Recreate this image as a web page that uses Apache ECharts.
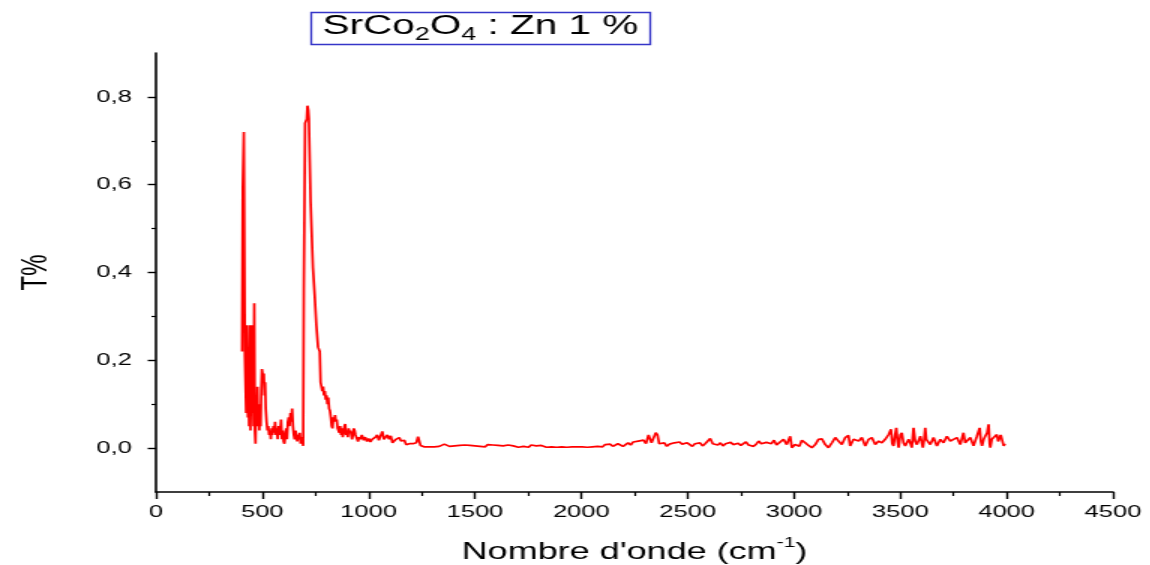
<!DOCTYPE html>
<html>
<head>
<meta charset="utf-8">
<script src="https://cdn.jsdelivr.net/npm/echarts@6/dist/echarts.min.js"></script>
<style>
  html, body { margin: 0; padding: 0; background: #fff; overflow: hidden; }
  /* the plot is laid out narrow and widened horizontally, like the original export */
  #chart { width: 767px; height: 565px; transform: scaleX(1.5); transform-origin: 0 0; }
</style>
</head>
<body>
<div id="chart"></div>
<script>
// IR transmission spectrum of SrCo2O4 doped with 1 % Zn
const wavenumbers = [
  405, 408, 411, 413, 416, 418, 421, 424, 427, 430, 432, 435, 438, 441, 444, 447, 450, 453, 456, 459,
  462, 465, 468, 471, 474, 477, 480, 483, 486, 489, 492, 495, 498, 501, 504, 507, 510, 513, 516, 520,
  524, 528, 532, 536, 540, 544, 548, 552, 556, 560, 564, 568, 572, 576, 580, 584, 588, 592, 596, 600,
  604, 608, 612, 616, 620, 624, 628, 632, 636, 640, 644, 648, 652, 656, 660, 664, 668, 672, 676, 680,
  684, 688, 692,
  695, 698, 701, 705, 709, 712, 716, 719, 723, 727, 731, 735, 738, 742, 746, 750, 754, 758, 762, 766,
  770, 774, 778, 782, 786, 790, 794, 798, 802, 806, 810, 814, 818, 822, 826, 830, 834, 838, 842, 846,
  850, 854, 858, 862, 866, 870, 874, 878, 882, 886, 890, 894, 898, 902, 906, 910, 914, 918, 922, 926,
  930, 934, 938, 942, 946, 950, 955,
  960, 968, 976, 984, 992, 1000, 1008, 1016, 1024, 1032, 1040, 1048, 1056, 1064, 1072, 1080, 1088, 1096,
  1104, 1112, 1120, 1128, 1136, 1144, 1152, 1160, 1168, 1176, 1184, 1192, 1200, 1208, 1216, 1224, 1232,
  1238, 1244, 1252,
  1260, 1272, 1284, 1296, 1308, 1320, 1332, 1344, 1356, 1368, 1380, 1392, 1404, 1416, 1428, 1440, 1452,
  1464, 1476, 1488, 1500, 1512, 1524, 1536, 1548, 1560, 1572, 1584, 1596, 1608, 1620, 1632, 1644, 1656,
  1668, 1680, 1692, 1704, 1716, 1728, 1740, 1752, 1764, 1776, 1788, 1800, 1812, 1824, 1836, 1848, 1860,
  1872, 1884, 1896, 1908, 1920, 1932, 1944, 1956, 1968, 1980, 1992, 2004,
  2016, 2028, 2040, 2052, 2064, 2076, 2088, 2100, 2112, 2124, 2136, 2148, 2160, 2172, 2184, 2196, 2208,
  2220, 2232, 2244, 2256, 2268, 2280, 2292, 2304, 2316, 2324, 2330, 2340, 2350, 2358, 2366, 2378, 2390,
  2402, 2414, 2426, 2438, 2450, 2462, 2474, 2486, 2498, 2510, 2522, 2534, 2546, 2558, 2570, 2582, 2594,
  2606, 2618, 2630, 2642, 2654, 2666, 2678, 2690, 2702, 2714, 2726, 2738, 2750, 2762, 2774, 2786, 2798,
  2810, 2822, 2834, 2846, 2858, 2870, 2882, 2894, 2906, 2918, 2930,
  2942, 2951, 2966, 2982, 2990, 3005, 3013, 3025, 3037, 3053, 3068, 3084, 3100, 3115, 3131, 3147, 3162,
  3178, 3194, 3209, 3225, 3241, 3256, 3264, 3272, 3280, 3288, 3304, 3319, 3335, 3351, 3366, 3382, 3398,
  3413, 3429, 3445, 3456, 3462, 3468, 3475, 3481, 3487, 3492, 3500, 3507, 3515, 3523, 3539, 3548, 3554,
  3562, 3570, 3578, 3594, 3606, 3612, 3617, 3622, 3628, 3641, 3656, 3672, 3688, 3703, 3719, 3735, 3750,
  3766, 3782, 3797, 3805, 3813, 3829, 3844, 3860, 3873, 3879, 3884, 3892, 3899, 3908, 3915, 3920, 3923,
  3930, 3939, 3954, 3960, 3967, 3972, 3978, 3986, 3992
];

const transmittance = [
  0.22, 0.59, 0.59, 0.72, 0.72, 0.21, 0.21, 0.08, 0.28, 0.28, 0.07, 0.14, 0.05, 0.28, 0.04, 0.12, 0.28, 0.08, 0.15, 0.05,
  0.33, 0.04, 0.01, 0.12, 0.06, 0.14, 0.05, 0.10, 0.04, 0.09, 0.05, 0.13, 0.18, 0.17, 0.15, 0.17, 0.12, 0.15, 0.09, 0.06,
  0.04, 0.05, 0.03, 0.04, 0.02, 0.045, 0.03, 0.05, 0.035, 0.06, 0.03, 0.045, 0.02, 0.05, 0.03, 0.04, 0.065, 0.02, 0.04, 0.015,
  0.01, 0.03, 0.045, 0.02, 0.06, 0.07, 0.05, 0.08, 0.06, 0.09, 0.05, 0.03, 0.02, 0.04, 0.03, 0.015, 0.03, 0.02, 0.035, 0.01,
  0.025, 0.02, 0.005,
  0.36, 0.36, 0.74, 0.74, 0.75, 0.78, 0.77, 0.75, 0.75, 0.56, 0.56, 0.56, 0.41, 0.41, 0.35, 0.35, 0.28, 0.28, 0.23, 0.23,
  0.22, 0.15, 0.15, 0.13, 0.14, 0.12, 0.13, 0.11, 0.12, 0.10, 0.115, 0.09, 0.085, 0.07, 0.05, 0.045, 0.07, 0.06, 0.075, 0.06,
  0.065, 0.045, 0.04, 0.035, 0.05, 0.03, 0.045, 0.025, 0.035, 0.05, 0.055, 0.03, 0.04, 0.025, 0.045, 0.035, 0.04, 0.03, 0.02, 0.03,
  0.045, 0.04, 0.03, 0.025, 0.02, 0.015, 0.025,
  0.02, 0.03, 0.018, 0.025, 0.015, 0.022, 0.014, 0.02, 0.017, 0.025, 0.03, 0.018, 0.022, 0.038, 0.02, 0.016, 0.03, 0.02,
  0.028, 0.012, 0.015, 0.02, 0.018, 0.024, 0.016, 0.012, 0.018, 0.008, 0.012, 0.01, 0.006, 0.01, 0.008, 0.012, 0.026,
  0.022, 0.006, 0.004,
  0.003, 0.002, 0.003, 0.001, 0.003, 0.002, 0.004, 0.006, 0.009, 0.006, 0.004, 0.007, 0.005, 0.003, 0.006, 0.004, 0.007,
  0.008, 0.006, 0.01, 0.005, 0.007, 0.004, 0.006, 0.003, 0.008, 0.005, 0.007, 0.004, 0.006, 0.009, 0.005, 0.004, 0.007,
  0.003, 0.005, 0.006, 0.002, 0.006, 0.004, 0.005, 0.002, 0.007, 0.004, 0.005, 0.003, 0.006, 0.004, 0.002, 0.005, 0.003,
  0.004, 0.002, 0.005, 0.003, 0.004, 0.002, 0.001, 0.003, 0.002, 0.003, 0.001, 0.003,
  0.004, 0.002, 0.005, 0.003, 0.006, 0.004, 0.007, 0.003, 0.008, 0.005, 0.009, 0.004, 0.007, 0.01, 0.006, 0.004, 0.008,
  0.012, 0.007, 0.014, 0.01, 0.016, 0.012, 0.018, 0.01, 0.03, 0.034, 0.012, 0.01, 0.035, 0.03, 0.01, 0.008, 0.012,
  0.004, 0.009, 0.006, 0.012, 0.008, 0.014, 0.009, 0.006, 0.012, 0.008, 0.004, 0.01, 0.007, 0.012, 0.005, 0.01, 0.013,
  0.022, 0.01, 0.014, 0.007, 0.012, 0.005, 0.01, 0.006, 0.013, 0.008, 0.004, 0.011, 0.006, 0.009, 0.014, 0.007, 0.011,
  0.004, 0.009, 0.016, 0.01, 0.006, 0.013, 0.016, 0.01, 0.018, 0.007, 0.012,
  0.008, 0.020, 0.008, 0.027, 0.001, 0.008, 0.012, 0.004, 0.018, 0.012, 0.006, 0.001, 0.008, 0.020, 0.021, 0.008, 0.001,
  0.012, 0.024, 0.016, 0.008, 0.024, 0.029, 0.005, 0.005, 0.02, 0.024, 0.016, 0.024, 0.005, 0.020, 0.024, 0.008, 0.016,
  0.012, 0.020, 0.031, 0.043, 0.01, 0.005, 0.03, 0.046, 0.015, 0.001, 0.03, 0.035, 0.012, 0.005, 0.020, 0.01, 0.001,
  0.046, 0.015, 0.008, 0.027, 0.001, 0.02, 0.046, 0.02, 0.016, 0.008, 0.024, 0.005, 0.020, 0.012, 0.027, 0.016, 0.020,
  0.024, 0.008, 0.035, 0.012, 0.016, 0.024, 0.005, 0.027, 0.046, 0.015, 0.005, 0.02, 0.027, 0.035, 0.054, 0.01, 0.001,
  0.02, 0.020, 0.031, 0.015, 0.016, 0.03, 0.027, 0.005, 0.01
];

const xTickValues = [0, 500, 1000, 1500, 2000, 2500, 3000, 3500, 4000, 4500];
const yLabelValues = [0, 0.2, 0.4, 0.6, 0.8];
const yMinorValues = [0.1, 0.3, 0.5, 0.7];

const FONT = '"Liberation Sans", Arial, sans-serif';
const points = wavenumbers.map((w, i) => [w, transmittance[i]]);

const chart = echarts.init(document.getElementById('chart'), null, { renderer: 'canvas' });

chart.setOption({
  animation: false,
  backgroundColor: '#ffffff',
  title: {
    text: '{t|SrCo}{s|2}{t|O}{s|4}{t| : Zn 1 %}',
    left: 207,
    top: 12,
    padding: [1, 8, 1, 8],
    borderColor: '#3535c8',
    borderWidth: 1.3,
    backgroundColor: '#ffffff',
    textStyle: {
      fontWeight: 'normal',
      rich: {
        t: { fontFamily: FONT, fontSize: 27, fontWeight: 'normal', color: '#000', lineHeight: 30, verticalAlign: 'top' },
        // subscript digits: pushed down by top padding
        s: { fontFamily: FONT, fontSize: 18, fontWeight: 'normal', color: '#000', lineHeight: 20, padding: [13, 0, 0, 0], verticalAlign: 'top' }
      }
    }
  },
  grid: { left: 104, right: 25, top: 53, bottom: 73, containLabel: false, outerBoundsMode: 'none' },
  xAxis: {
    type: 'value',
    min: 0,
    max: 4500,
    interval: 500,
    name: '{n|Nombre d\'onde (cm}{p|-1}{n|)}',
    nameLocation: 'middle',
    nameGap: 44,
    nameTextStyle: {
      rich: {
        n: { fontFamily: FONT, fontSize: 24, color: '#000', lineHeight: 28, verticalAlign: 'bottom' },
        p: { fontFamily: FONT, fontSize: 14, color: '#000', lineHeight: 14, verticalAlign: 'top' }
      }
    },
    axisLine: { show: true, onZero: false, lineStyle: { color: '#000', width: 1.6 } },
    axisTick: { show: true, inside: false, length: 7, customValues: xTickValues, lineStyle: { color: '#000', width: 1.4 } },
    minorTick: { show: true, splitNumber: 2, length: 4, lineStyle: { color: '#000', width: 1.2 } },
    axisLabel: {
      customValues: xTickValues,
      margin: 12,
      fontFamily: FONT,
      fontSize: 17,
      color: '#000',
      formatter: v => String(v)
    },
    splitLine: { show: false }
  },
  yAxis: [
    {
      type: 'value',
      min: -0.1,
      max: 0.9,
      interval: 0.1,
      name: 'T%',
      nameLocation: 'middle',
      nameGap: 68,
      nameTextStyle: { fontFamily: FONT, fontSize: 24, color: '#000' },
      axisLine: { show: true, onZero: false, lineStyle: { color: '#000', width: 1.6 } },
      axisTick: { show: true, inside: false, length: 5.5, customValues: yLabelValues, lineStyle: { color: '#000', width: 1.4 } },
      axisLabel: {
        customValues: yLabelValues,
        margin: 16,
        fontFamily: FONT,
        fontSize: 17,
        color: '#000',
        formatter: v => v.toFixed(1).replace('.', ',')
      },
      splitLine: { show: false }
    },
    {
      type: 'value',
      min: -0.1,
      max: 0.9,
      interval: 0.1,
      position: 'left',
      axisLine: { show: false },
      axisTick: { show: true, inside: false, length: 3, customValues: yMinorValues, lineStyle: { color: '#000', width: 1.2 } },
      axisLabel: { show: false },
      splitLine: { show: false }
    }
  ],
  series: [
    {
      type: 'line',
      data: points,
      showSymbol: false,
      symbol: 'none',
      sampling: null,
      lineStyle: { color: '#ff0000', width: 1.7 },
      itemStyle: { color: '#ff0000' },
      emphasis: { disabled: true },
      silent: true
    }
  ]
});
</script>
</body>
</html>
